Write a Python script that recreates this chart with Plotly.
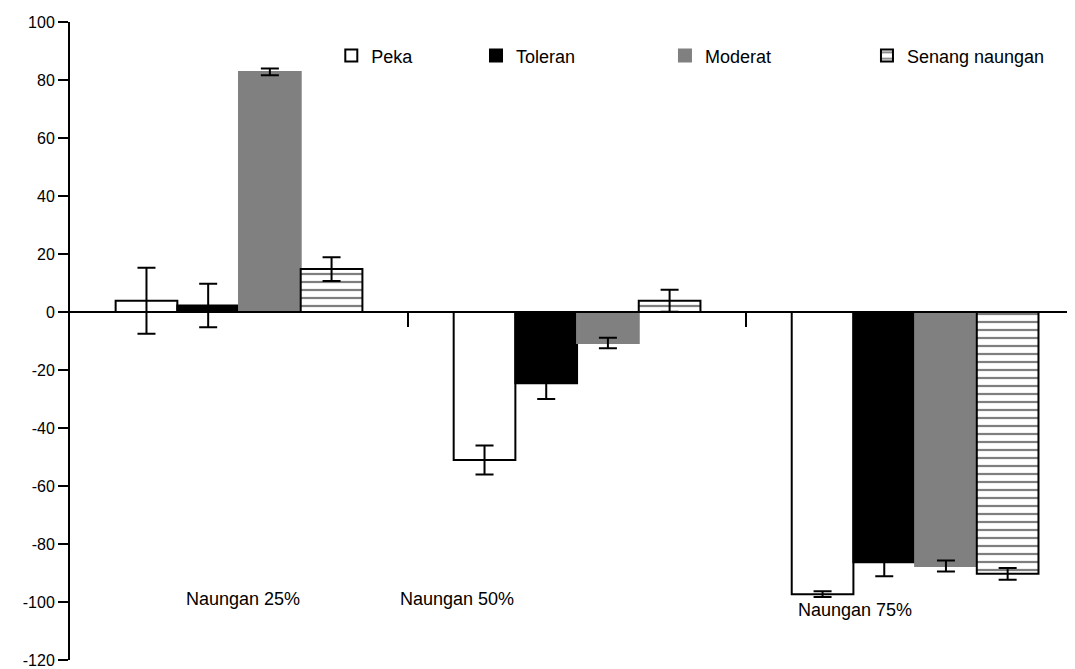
import plotly.graph_objects as go

groups = ["Naungan 25%", "Naungan 50%", "Naungan 75%"]
series = ["Peka", "Toleran", "Moderat", "Senang naungan"]
peka = [3.9, -51.0, -97.3]
peka_err = [11.4, 5.0, 1.0]
toleran = [2.2, -24.6, -86.3]
toleran_err = [7.5, 5.4, 4.8]
moderat = [82.8, -10.7, -87.6]
moderat_err = [1.2, 1.8, 1.9]
senang = [14.8, 3.9, -90.3]
senang_err = [4.1, 3.8, 2.0]
y_ticks = [100, 80, 60, 40, 20, 0, -20, -40, -60, -80, -100, -120]

xpos = [0, 1, 2]
FONT = "Liberation Sans, Arial, sans-serif"

styles = [
    dict(color="white", line=dict(color="black", width=2)),
    dict(color="black", line=dict(color="black", width=2)),
    dict(color="#808080", line=dict(color="#808080", width=2)),
    dict(color="white", line=dict(color="black", width=2),
         pattern=dict(shape="-", fgcolor="black", bgcolor="white", size=8, solidity=0.28)),
]
vals = [peka, toleran, moderat, senang]
errs = [peka_err, toleran_err, moderat_err, senang_err]
legends = ["legend", "legend2", "legend3", "legend4"]

fig = go.Figure()
for name, v, e, st, lg in zip(series, vals, errs, styles, legends):
    fig.add_trace(go.Bar(
        x=xpos, y=v, name=name, marker=st, legend=lg, showlegend=True,
        error_y=dict(type="data", array=e, visible=True, color="black",
                     thickness=2, width=9),
    ))

leg_x = [0.26, 0.404, 0.592, 0.793]
common_leg = dict(y=0.947, yanchor="middle", xanchor="left",
                  bgcolor="rgba(0,0,0,0)", font=dict(family=FONT, size=18, color="black"))
fig.update_layout(
    showlegend=True,
    legend=dict(x=leg_x[0], **common_leg),
    legend2=dict(x=leg_x[1], **common_leg),
    legend3=dict(x=leg_x[2], **common_leg),
    legend4=dict(x=leg_x[3], **common_leg),
)

ann_pos = [(0.012, -99), (0.645, -99), (1.822, -102.8)]
for g, (ax, ay) in zip(groups, ann_pos):
    fig.add_annotation(x=ax, y=ay, xref="x", yref="y", text=g, showarrow=False,
                       font=dict(family=FONT, size=18, color="black"))

# page body adds an 8px offset, so the figure is 8px smaller and margins shifted
fig.update_layout(
    width=1067, height=661,
    margin=dict(l=62, r=0, t=14, b=9),
    paper_bgcolor="white", plot_bgcolor="white",
    barmode="group", bargap=0.27, bargroupgap=0,
    font=dict(family=FONT, size=16, color="black"),
    xaxis=dict(range=[-0.5, 2.473], anchor="free", position=120 / 220,
               showline=True, linecolor="black", linewidth=2,
               ticks="outside", ticklen=14, tickwidth=2, tickcolor="black",
               tickvals=[0.5, 1.5], showticklabels=False, automargin=False,
               showgrid=False, zeroline=False),
    yaxis=dict(range=[-120, 100], tickvals=y_ticks, ticktext=[str(t) for t in y_ticks],
               showline=True, linecolor="black", linewidth=2,
               ticks="outside", ticklen=10, tickwidth=2, tickcolor="black",
               showgrid=False, zeroline=False, automargin=False,
               tickfont=dict(family=FONT, size=16, color="black")),
)

fig.write_html("out.html")
